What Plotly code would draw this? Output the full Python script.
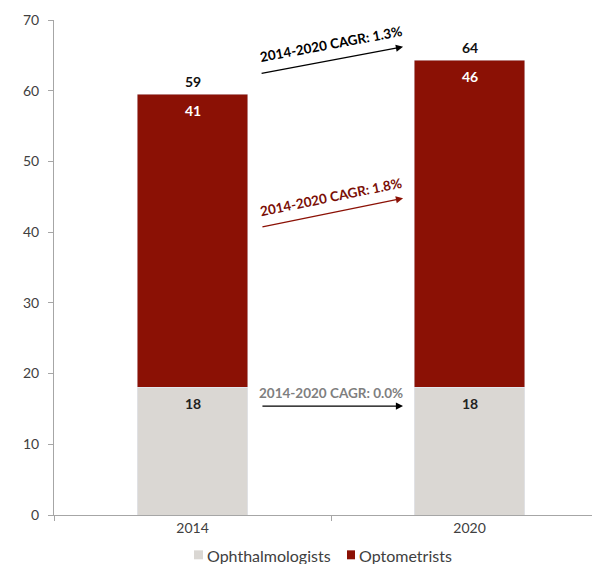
import plotly.graph_objects as go

years = ["2014", "2020"]
ophthalmologists = [18.1, 18.1]
optometrists = [41.4, 46.2]
oph_labels = ["18", "18"]
opt_labels = ["41", "46"]
total_labels = ["59", "64"]
series_names = ["Ophthalmologists", "Optometrists"]
cagr_texts = ["2014-2020 CAGR: 1.3%", "2014-2020 CAGR: 1.8%", "2014-2020 CAGR: 0.0%"]

GREY = "#DAD7D3"
RED = "#8B1105"
FONT = "Lato"

fig = go.Figure()
fig.add_trace(go.Bar(x=years, y=ophthalmologists, name=series_names[0],
                     marker_color=GREY, width=0.4, hoverinfo="skip"))
fig.add_trace(go.Bar(x=years, y=optometrists, name=series_names[1],
                     marker_color=RED, width=0.4, hoverinfo="skip"))

totals = [a + b for a, b in zip(ophthalmologists, optometrists)]
anns = []
for i in range(len(years)):
    anns.append(dict(x=i, y=totals[i], xref="x", yref="y", text="<b>%s</b>" % total_labels[i],
                     showarrow=False, yshift=13, font=dict(size=14, color="#111111", family=FONT)))
    anns.append(dict(x=i, y=totals[i], xref="x", yref="y", text="<b>%s</b>" % opt_labels[i],
                     showarrow=False, yshift=-16, font=dict(size=14, color="white", family=FONT)))
    anns.append(dict(x=i, y=ophthalmologists[i], xref="x", yref="y", text="<b>%s</b>" % oph_labels[i],
                     showarrow=False, yshift=-16, font=dict(size=14, color="#222222", family=FONT)))

# CAGR arrows (data coordinates)
arrow_specs = [
    (0.244, 62.4, 0.76, 66.2, "black"),
    (0.247, 40.7, 0.76, 44.8, RED),
    (0.247, 15.4, 0.76, 15.4, "black"),
]
for (x0, y0, x1, y1, c) in arrow_specs:
    anns.append(dict(x=x1, y=y1, ax=x0, ay=y0, xref="x", yref="y", axref="x", ayref="y",
                     text="", showarrow=True, arrowhead=2, arrowsize=1.1, arrowwidth=1.3,
                     arrowcolor=c, standoff=0, startstandoff=0))

text_specs = [
    (0.5, 66.6, -10.5, "black", cagr_texts[0]),
    (0.5, 44.9, -11.5, "#7A0E06", cagr_texts[1]),
    (0.5, 17.3, 0, "#7F7F7F", cagr_texts[2]),
]
for (x, y, ang, c, t) in text_specs:
    anns.append(dict(x=x, y=y, xref="x", yref="y", text="<b>%s</b>" % t, showarrow=False,
                     textangle=ang, font=dict(size=13.5, color=c, family=FONT)))

# custom legend (compact, like the reference)
legend_items = [(0.2564, 0.2729, GREY), (0.5366, 0.5513, RED)]
shapes = []
for (x0, x1, c), name in zip(legend_items, series_names):
    shapes.append(dict(type="rect", xref="paper", yref="paper", x0=x0, x1=x1,
                       y0=-0.0895, y1=-0.0714, fillcolor=c, line=dict(width=0)))
    anns.append(dict(x=x1 + 0.0037, y=-0.0815, xref="paper", yref="paper", xanchor="left",
                     yanchor="middle", text=name, showarrow=False,
                     font=dict(size=16, color="#404040", family=FONT)))

fig.update_layout(
    barmode="stack",
    width=592, height=556,
    margin=dict(l=46, r=0, t=12, b=49, autoexpand=False),
    plot_bgcolor="white", paper_bgcolor="white",
    font=dict(family=FONT, size=14, color="#404040"),
    showlegend=False,
    annotations=anns,
    shapes=shapes,
    xaxis=dict(type="category", range=[-0.5, 1.471], showline=True, linecolor="#A6A6A6",
               linewidth=1, ticks="outside", tickson="boundaries", ticklen=5,
               tickcolor="#A6A6A6", showgrid=False, automargin=False,
               tickfont=dict(size=14, color="#404040")),
    yaxis=dict(range=[0, 70], dtick=10, showline=True, linecolor="#A6A6A6", linewidth=1,
               ticks="outside", ticklen=5, tickcolor="#A6A6A6", showgrid=False,
               zeroline=False, automargin=False, ticklabelstandoff=6,
               tickfont=dict(size=14, color="#404040")),
)

fig.write_html("out.html")
